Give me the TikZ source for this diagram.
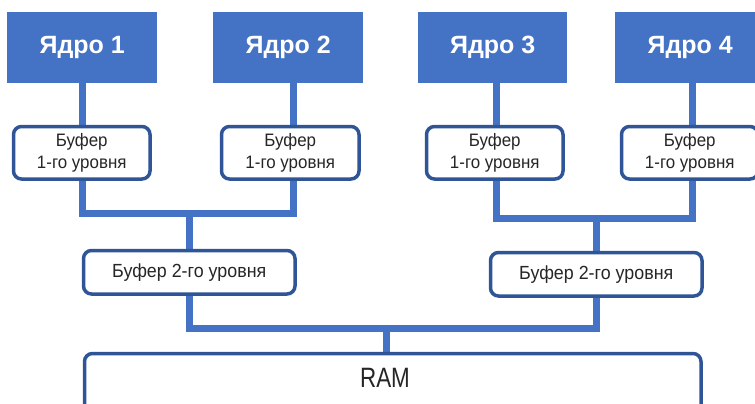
\documentclass[tikz,border=0pt]{standalone}
\usepackage{fontspec}
\setmainfont{Liberation Sans}
\newfontfamily\narrowfont[FakeStretch=0.94]{Liberation Sans}
\newfontfamily\ramfont[FakeStretch=0.8]{Liberation Sans}
\usetikzlibrary{backgrounds}
\definecolor{corefill}{HTML}{4472C4}
\definecolor{connc}{HTML}{4472C4}
\definecolor{bufline}{HTML}{2F5597}
\definecolor{txt}{HTML}{262626}
\tikzset{
  core/.style={fill=corefill, draw=none, minimum width=150pt, minimum height=71pt,
    anchor=north west, inner sep=0pt, text=white,
    font=\bfseries\fontsize{25}{30}\selectfont},
  bufbox/.style={draw=bufline, line width=3.5pt, rounded corners=8pt, fill=white,
    anchor=north west, inner sep=0pt, align=center, text=txt,
    font=\narrowfont\fontsize{18}{22}\selectfont},
  conn/.style={draw=connc, line width=7pt, line join=miter}
}
\begin{document}
\begin{tikzpicture}[x=1pt,y=1pt]
\useasboundingbox (0,0) rectangle (755,-404);
\clip (0,0) rectangle (755,-404);
% cores
\node[core] (core1) at (7,-12) {Ядро 1};
\node[core] (core2) at (213,-12) {Ядро 2};
\node[core, minimum width=149pt] (core3) at (418,-12) {Ядро 3};
\node[core] (core4) at (615,-12) {Ядро 4};
% level 1 buffers
\node[bufbox, minimum width=136.5pt, minimum height=52.5pt] (buf1) at (11.75,-124.75) {Буфер\\1-го уровня};
\node[bufbox, minimum width=137.5pt, minimum height=52.5pt] (buf2) at (219.75,-124.75) {Буфер\\1-го уровня};
\node[bufbox, minimum width=136.5pt, minimum height=52.5pt] (buf3) at (424.75,-124.75) {Буфер\\1-го уровня};
\node[bufbox, minimum width=136.5pt, minimum height=52.5pt] (buf4) at (619.75,-124.75) {Буфер\\1-го уровня};
% level 2 buffers
\node[bufbox, minimum width=211.5pt, minimum height=43.5pt, font=\narrowfont\fontsize{19}{22}\selectfont] (l2a) at (81.75,-248.75) {Буфер 2-го уровня};
\node[bufbox, minimum width=211.5pt, minimum height=43.5pt, font=\narrowfont\fontsize{19}{22}\selectfont] (l2b) at (488.75,-250.75) {Буфер 2-го уровня};
% RAM
\node[bufbox, minimum width=616.5pt, minimum height=80pt] (ram) at (82.75,-351.75) {};
\node[text=txt, font=\ramfont\fontsize{28}{32}\selectfont, inner sep=0pt] (ramlbl) at (385,-378.3) {RAM};
% helper coordinates
\coordinate (x1) at (82,0);
\coordinate (x2) at (293,0);
\coordinate (x3) at (496,0);
\coordinate (x4) at (692,0);
\coordinate (xr) at (386,0);
\coordinate (jl) at (0,-213);
\coordinate (jr) at (0,-218);
\coordinate (jb) at (0,-328);
\begin{scope}[on background layer]
\draw[conn] (core1.south -| x1) -- (buf1.north -| x1);
\draw[conn] (core2.south -| x2) -- (buf2.north -| x2);
\draw[conn] (core3.south -| x3) -- (buf3.north -| x3);
\draw[conn] (core4.south -| x4) -- (buf4.north -| x4);
\draw[conn] (buf1.south -| x1) -- (x1 |- jl) -- (x2 |- jl) -- (buf2.south -| x2);
\draw[conn] (buf3.south -| x3) -- (x3 |- jr) -- (x4 |- jr) -- (buf4.south -| x4);
\draw[conn] (l2a.north) -- (l2a.north |- jl);
\draw[conn] (l2b.north) -- (l2b.north |- jr);
\draw[conn] (l2a.south) -- (l2a.south |- jb) -- (l2b.south |- jb) -- (l2b.south);
\draw[conn] (ram.north -| xr) -- (xr |- jb);
\end{scope}
\end{tikzpicture}
\end{document}
